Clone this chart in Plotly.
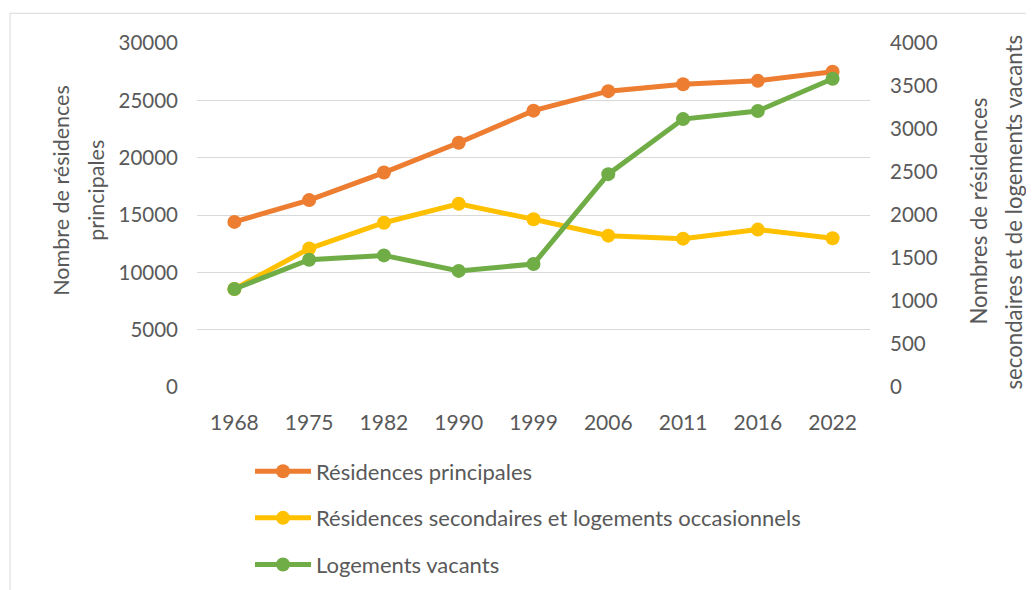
import plotly.graph_objects as go

years = ["1968", "1975", "1982", "1990", "1999", "2006", "2011", "2016", "2022"]
res_principales = [14400, 16300, 18700, 21300, 24100, 25800, 26400, 26700, 27500]
res_secondaires = [1140, 1610, 1910, 2130, 1950, 1760, 1725, 1830, 1730]
log_vacants = [1140, 1480, 1530, 1350, 1430, 2475, 3115, 3210, 3585]

left_ticks = [0, 5000, 10000, 15000, 20000, 25000, 30000]
right_ticks = [0, 500, 1000, 1500, 2000, 2500, 3000, 3500, 4000]

left_title = ["Nombre de résidences", "principales"]
right_title = ["Nombres de résidences", "secondaires et de logements vacants"]

FONT = "Lato"
TXT = "#595959"
GRID = "#d9d9d9"

# plot area in figure pixels
L, R, T, B = 189, 172, 35, 208
W, H = 1034, 590
PW, PH = W - L - R, H - T - B


def px(xf):
    return (xf - L) / PW


def py(yf):
    return (H - B - yf) / PH


fig = go.Figure()
series = [
    ("Résidences principales", res_principales, "#ED7D31", "y"),
    ("Résidences secondaires et logements occasionnels", res_secondaires, "#FFC000", "y2"),
    ("Logements vacants", log_vacants, "#70AD47", "y2"),
]
for i, (name, vals, color, ax) in enumerate(series):
    fig.add_trace(go.Scatter(
        x=years, y=vals, name=name, yaxis=ax, mode="lines+markers",
        line=dict(color=color, width=5),
        marker=dict(color=color, size=14),
        legendgroup=str(i),
    ))

annotations = []
for text, xf in zip(left_title, [53, 88]):
    annotations.append(dict(
        text=text, xref="paper", yref="paper", x=px(xf), y=py(184),
        xanchor="center", yanchor="middle", textangle=-90, showarrow=False,
        font=dict(family=FONT, size=21.5, color=TXT),
    ))
for text, xf in zip(right_title, [971, 1006]):
    annotations.append(dict(
        text=text, xref="paper", yref="paper", x=px(xf), y=py(205),
        xanchor="center", yanchor="middle", textangle=-90, showarrow=False,
        font=dict(family=FONT, size=22.2, color=TXT),
    ))

fig.update_layout(
    template="none",
    width=W, height=H,
    margin=dict(l=L, r=R, t=T, b=B, pad=0),
    paper_bgcolor="white", plot_bgcolor="white",
    font=dict(family=FONT, size=20, color=TXT),
    showlegend=True,
    legend=dict(
        x=px(242), y=py(446), xanchor="left", yanchor="top",
        orientation="v", tracegroupgap=15, itemwidth=56,
        font=dict(family=FONT, size=22, color=TXT),
        bgcolor="rgba(0,0,0,0)",
    ),
    xaxis=dict(
        type="category", range=[-0.5, 8.5], showgrid=False, zeroline=False,
        showline=False, ticks="", ticklabelstandoff=21, automargin=False,
        tickfont=dict(family=FONT, size=21, color=TXT),
    ),
    yaxis=dict(
        range=[0, 30000], tickvals=left_ticks, ticktext=[str(v) for v in left_ticks],
        showgrid=True, gridcolor=GRID, gridwidth=1.3, zeroline=False,
        showline=False, ticks="", ticklabelstandoff=18, automargin=False,
        tickfont=dict(family=FONT, size=20.5, color=TXT),
    ),
    yaxis2=dict(
        range=[0, 4000], tickvals=right_ticks, ticktext=[str(v) for v in right_ticks],
        overlaying="y", side="right",
        showgrid=False, zeroline=False, showline=False, ticks="",
        ticklabelstandoff=19, automargin=False,
        tickfont=dict(family=FONT, size=20.5, color=TXT),
    ),
    annotations=annotations,
    shapes=[dict(
        type="rect", xref="paper", yref="paper",
        x0=px(2), x1=px(1200), y0=py(800), y1=py(5),
        line=dict(color="#d9d9d9", width=1), fillcolor="rgba(0,0,0,0)",
        layer="below",
    )],
)

fig.write_html("out.html")
